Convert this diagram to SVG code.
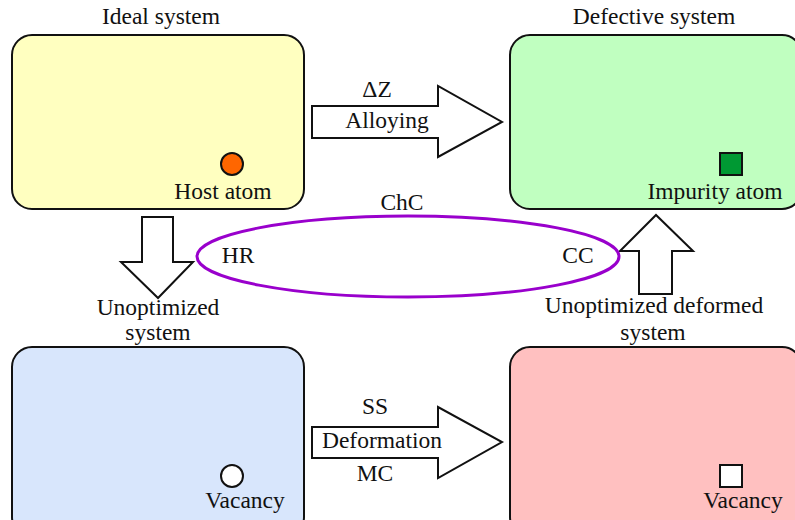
<svg xmlns="http://www.w3.org/2000/svg" width="795" height="520" viewBox="0 0 795 520">
<style>
  text { font-family: "Liberation Serif", "Times New Roman", serif; font-size: 23.5px; fill: #111; }
  .box { stroke: #111; stroke-width: 2; }
  .arrow { fill: #fff; stroke: #111; stroke-width: 2; stroke-linejoin: miter; }
  .mid { text-anchor: middle; }
</style>
<rect width="795" height="520" fill="#fff"/>
<g id="ideal">
  <text class="mid" x="161" y="24">Ideal system</text>
  <rect class="box" x="12" y="35" width="292" height="174" rx="20" fill="#ffffc0"/>
  <circle cx="232" cy="164" r="11" fill="#ff6600" stroke="#111" stroke-width="2"/>
  <text class="mid" x="223" y="199">Host atom</text>
</g>
<g id="defective">
  <text class="mid" x="654" y="24">Defective system</text>
  <rect class="box" x="510" y="35" width="292" height="174" rx="20" fill="#c0ffc0"/>
  <rect x="720" y="153" width="22" height="22" fill="#009933" stroke="#111" stroke-width="2"/>
  <text class="mid" x="715" y="199">Impurity atom</text>
</g>
<g id="unoptimized">
  <text class="mid" x="158" y="315">Unoptimized</text>
  <text class="mid" x="158" y="340">system</text>
  <rect class="box" x="12" y="347" width="292" height="190" rx="20" fill="#d8e6fc"/>
  <circle cx="232" cy="476" r="11" fill="#fff" stroke="#111" stroke-width="2"/>
  <text class="mid" x="245" y="508">Vacancy</text>
</g>
<g id="unoptimized-deformed">
  <text class="mid" x="654" y="313">Unoptimized deformed</text>
  <text class="mid" x="653" y="340">system</text>
  <rect class="box" x="510" y="347" width="292" height="190" rx="20" fill="#ffc0c0"/>
  <rect x="720" y="465" width="22" height="22" fill="#fff" stroke="#111" stroke-width="2"/>
  <text class="mid" x="743" y="508">Vacancy</text>
</g>
<g id="connectors">
  <polygon class="arrow" points="312,106 438,106 438,86 502,122 438,157 438,138 312,138"/>
  <text class="mid" x="377" y="97">ΔZ</text>
  <text class="mid" x="387" y="128">Alloying</text>
  <polygon class="arrow" points="142,217 173,217 173,262 193,262 158,298 121,262 142,262"/>
  <polygon class="arrow" points="639,294 672,294 672,251 693,251 656,215 620,251 639,251"/>
  <polygon class="arrow" points="312,427 438,427 438,407 502,442 438,478 438,458 312,458"/>
  <text class="mid" x="375" y="414">SS</text>
  <text class="mid" x="382" y="448">Deformation</text>
  <text class="mid" x="375" y="481">MC</text>
  <ellipse cx="408" cy="256.5" rx="211" ry="40.5" fill="none" stroke="#9900cc" stroke-width="3"/>
  <text class="mid" x="402" y="210">ChC</text>
  <text class="mid" x="238" y="263">HR</text>
  <text class="mid" x="578" y="263">CC</text>
</g>
</svg>
